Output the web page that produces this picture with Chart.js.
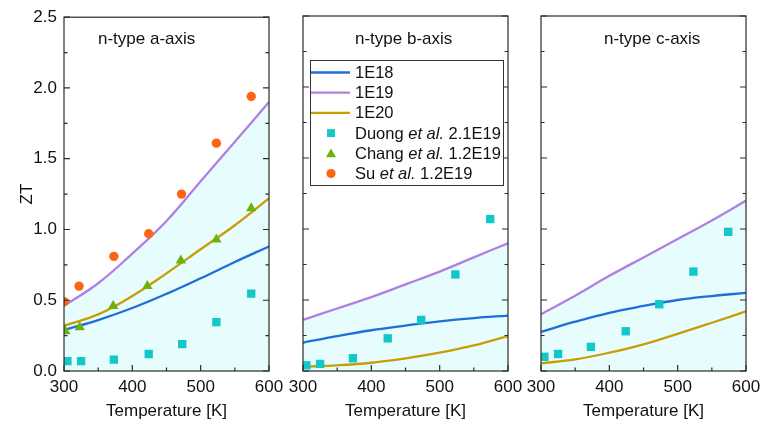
<!DOCTYPE html>
<html>
<head>
<meta charset="utf-8">
<script src="https://cdn.jsdelivr.net/npm/chart.js@4.4.1/dist/chart.umd.min.js"></script>
<style>
  body { margin: 0; background: #fff; overflow: hidden; }
  #wrap { position: relative; width: 762px; height: 433px; overflow: hidden; }
  canvas { position: absolute; left: 0; top: 0; }
</style>
</head>
<body>
<div id="wrap">
  <canvas id="panelA" width="762" height="433"></canvas>
  <canvas id="panelB" width="762" height="433"></canvas>
  <canvas id="panelC" width="800" height="433"></canvas>
</div>
<script>
// model curves, temperature grid [K]
const curveT = [300, 350, 400, 450, 500, 550, 600];

// a-axis
const aN18 = [0.29, 0.36, 0.445, 0.545, 0.655, 0.77, 0.88];
const aN19 = [0.46, 0.62, 0.83, 1.06, 1.34, 1.62, 1.90];
const aN20 = [0.32, 0.40, 0.53, 0.69, 0.86, 1.03, 1.22];
// b-axis
const bN18 = [0.20, 0.246, 0.287, 0.32, 0.35, 0.373, 0.39];
const bN19 = [0.36, 0.44, 0.52, 0.61, 0.70, 0.80, 0.90];
const bN20 = [0.03, 0.04, 0.058, 0.089, 0.129, 0.18, 0.246];
// c-axis
const cN18 = [0.275, 0.347, 0.41, 0.458, 0.50, 0.528, 0.55];
const cN19 = [0.40, 0.53, 0.67, 0.80, 0.93, 1.06, 1.20];
const cN20 = [0.054, 0.082, 0.129, 0.188, 0.262, 0.34, 0.42];

// experiments
const duongT = [305, 325, 373, 424, 473, 523, 574];
const duongA = [0.07, 0.07, 0.08, 0.12, 0.19, 0.345, 0.547];
const duongB = [0.04, 0.05, 0.09, 0.23, 0.36, 0.68, 1.07];
const duongC = [0.10, 0.12, 0.17, 0.28, 0.47, 0.70, 0.98];
const changT = [302, 323, 372, 422, 471, 523, 574];
const changA = [0.28, 0.31, 0.46, 0.60, 0.78, 0.93, 1.15];
const suT = [300, 322, 373, 424, 472, 523, 574];
const suA = [0.49, 0.60, 0.81, 0.97, 1.25, 1.61, 1.94];

const seriesNames = ['1E18', '1E19', '1E20', 'Duong|et al.|2.1E19', 'Chang|et al.|1.2E19', 'Su|et al.|1.2E19'];
const panelTitles = ['n-type a-axis', 'n-type b-axis', 'n-type c-axis'];

const FONT = '"Liberation Sans", Arial, sans-serif';
const C18 = '#1f6fd9', C19 = '#b17fe3', C20 = '#c99d06';
const CDUONG = '#13c7c9', CCHANG = '#6db20c', CSU = '#fd6514';
const FILL = '#e6fcfd';

function pts(xs, ys) {
    return xs.map((x, i) => ({ x: x, y: ys[i] }));
}

function lineSet(label, xs, ys, color, fill) {
    return {
        label, data: pts(xs, ys),
        borderColor: color, borderWidth: 2.3,
        backgroundColor: fill ? FILL : color,
        fill: fill ? 'origin' : false,
        pointRadius: 0, tension: 0.4
    };
}

function markerSet(label, xs, ys, color, style, r) {
    return {
        label, data: pts(xs, ys), showLine: false,
        pointStyle: style, pointRadius: r,
        pointBackgroundColor: color, pointBorderWidth: 0,
        borderColor: color, backgroundColor: color
    };
}

// frame with inward ticks, like the plotting program does
const framePlugin = {
    id: 'frame',
    afterDatasetsDraw(chart) {
        const { ctx, chartArea: a, scales: { x, y } } = chart;
        ctx.save();
        ctx.strokeStyle = '#2b2b2b';
        ctx.lineWidth = 1.2;
        ctx.strokeRect(a.left, a.top, a.right - a.left, a.bottom - a.top);
        ctx.beginPath();
        for (let k = 0; k <= 10; k++) {
            const py = y.getPixelForValue(k * 0.25);
            const len = k % 2 === 0 ? 6 : 3.5;
            ctx.moveTo(a.left, py); ctx.lineTo(a.left + len, py);
            ctx.moveTo(a.right, py); ctx.lineTo(a.right - len, py);
        }
        for (let k = 0; k <= 6; k++) {
            const px = x.getPixelForValue(300 + k * 50);
            const len = k % 2 === 0 ? 6 : 3.5;
            ctx.moveTo(px, a.bottom); ctx.lineTo(px, a.bottom - len);
        }
        ctx.stroke();
        ctx.restore();
    }
};

const titlePlugin = {
    id: 'panelTitle',
    afterDraw(chart, args, opts) {
        const ctx = chart.ctx;
        ctx.save();
        ctx.font = '17px ' + FONT;
        ctx.fillStyle = '#111';
        ctx.textBaseline = 'middle';
        ctx.fillText(opts.text, opts.x, 39);
        ctx.restore();
    }
};

// boxed legend inside the b-axis panel, "et al." in italics
const boxLegend = {
    id: 'boxLegend',
    afterDraw(chart, args, opts) {
        if (!opts.show) return;
        const ctx = chart.ctx;
        const left = 310, top = 60, w = 193, h = 125;
        ctx.save();
        ctx.fillStyle = '#fff';
        ctx.fillRect(left, top, w, h);
        ctx.strokeStyle = '#333';
        ctx.lineWidth = 1;
        ctx.strokeRect(left + 0.5, top + 0.5, w, h);
        const styles = [
            { line: C18 }, { line: C19 }, { line: C20 },
            { mark: CDUONG, style: 'rect', r: 5.6 },
            { mark: CCHANG, style: 'triangle', r: 5.8 },
            { mark: CSU, style: 'circle', r: 4.6 }
        ];
        seriesNames.forEach((name, i) => {
            const yy = 72.5 + i * 20.2;
            const s = styles[i];
            if (s.line) {
                ctx.strokeStyle = s.line;
                ctx.lineWidth = 2.3;
                ctx.beginPath();
                ctx.moveTo(311, yy); ctx.lineTo(350, yy);
                ctx.stroke();
            } else {
                ctx.fillStyle = s.mark;
                Chart.helpers.drawPoint(ctx, { pointStyle: s.style, radius: s.r, borderWidth: 0 }, 331, yy + (s.style === 'triangle' ? 1 : 0));
            }
            ctx.fillStyle = '#111';
            ctx.textBaseline = 'middle';
            const parts = name.split('|');
            let xx = 355;
            parts.forEach((p, j) => {
                ctx.font = (j === 1 ? 'italic ' : '') + '16.5px ' + FONT;
                const txt = j < parts.length - 1 ? p + ' ' : p;
                ctx.fillText(txt, xx, yy + 1);
                xx += ctx.measureText(txt).width;
            });
        });
        ctx.restore();
    }
};

function makePanel(id, cfg) {
    const datasets = [];
    if (cfg.su) datasets.push(markerSet('Su', suT, cfg.su, CSU, 'circle', 4.7));
    if (cfg.chang) datasets.push(markerSet('Chang', changT, cfg.chang, CCHANG, 'triangle', 6));
    datasets.push(markerSet('Duong', duongT, cfg.duong, CDUONG, 'rect', 5.9));
    datasets.push(lineSet('1E20', curveT, cfg.n20, C20, false));
    datasets.push(lineSet('1E18', curveT, cfg.n18, C18, false));
    datasets.push(lineSet('1E19', curveT, cfg.n19, C19, true));

    return new Chart(document.getElementById(id), {
        type: 'line',
        data: { datasets },
        options: {
            responsive: false,
            animation: false,
            events: [],
            layout: { padding: { left: cfg.padLeft, right: cfg.padRight, top: 16, bottom: 0 } },
            plugins: {
                legend: { display: false },
                tooltip: { enabled: false },
                filler: { drawTime: 'beforeDatasetsDraw' },
                panelTitle: { text: cfg.title, x: cfg.titleX },
                boxLegend: { show: !!cfg.legend }
            },
            scales: {
                x: {
                    type: 'linear', min: 300, max: 600,
                    grid: { display: false, drawTicks: false },
                    border: { display: false },
                    ticks: { stepSize: 100, maxRotation: 0, padding: 6, color: '#111', font: { family: FONT, size: 17 } },
                    title: { display: true, text: 'Temperature [K]', color: '#111', font: { family: FONT, size: 17 }, padding: { top: 0, bottom: 11 } },
                    afterFit: s => { s.height = 62; }
                },
                y: {
                    min: 0, max: 2.5,
                    grid: { display: false, drawTicks: false },
                    border: { display: false },
                    ticks: { display: cfg.showY, stepSize: 0.5, padding: 7, color: '#111', font: { family: FONT, size: 17 }, callback: v => v.toFixed(1) },
                    title: { display: cfg.showY, text: 'ZT', color: '#111', font: { family: FONT, size: 17 }, padding: { top: 17 } },
                    afterFit: s => { s.width = cfg.showY ? 64 : 0; }
                }
            }
        },
        plugins: [framePlugin, titlePlugin, boxLegend]
    });
}

makePanel('panelA', { n18: aN18, n19: aN19, n20: aN20, duong: duongA, chang: changA, su: suA,
    title: panelTitles[0], titleX: 98, padLeft: 0, padRight: 493, showY: true });
makePanel('panelB', { n18: bN18, n19: bN19, n20: bN20, duong: duongB,
    title: panelTitles[1], titleX: 355, padLeft: 303, padRight: 254, showY: false, legend: true });
makePanel('panelC', { n18: cN18, n19: cN19, n20: cN20, duong: duongC,
    title: panelTitles[2], titleX: 604, padLeft: 541, padRight: 54, showY: false });
</script>
</body>
</html>
